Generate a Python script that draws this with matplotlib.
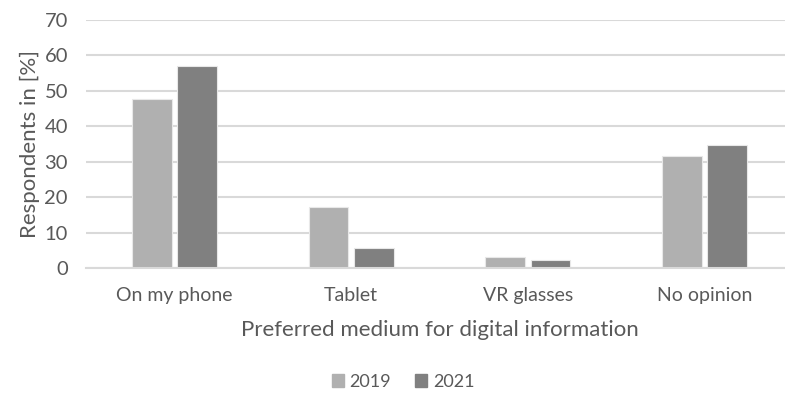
import numpy as np
import matplotlib.pyplot as plt

plt.rcParams['font.family'] = ['Lato', 'DejaVu Sans']

categories = ['On my phone', 'Tablet', 'VR glasses', 'No opinion']
years = ['2019', '2021']
values_2019 = [47.6, 17.2, 3.1, 31.7]
values_2021 = [57.1, 5.6, 2.3, 34.6]
colors = ['#B0B0B0', '#808080']

text_col = '#595959'
grid_col = '#D9D9D9'

fig = plt.figure(figsize=(7.85, 4.01), dpi=100)
# the plot area runs a little past the right edge of the figure
ax = fig.add_axes([0.1096, 0.3317, 0.9006, 0.6184])

x = np.arange(len(categories))
w = 0.225
gap = 0.03
ax.bar(x - (w + gap) / 2, values_2019, w, color=colors[0], label=years[0],
       edgecolor='#E8E8E8', linewidth=0.8, zorder=3)
ax.bar(x + (w + gap) / 2, values_2021, w, color=colors[1], label=years[1],
       edgecolor='#E8E8E8', linewidth=0.8, zorder=3)

ax.set_xlim(-0.5, len(categories) - 0.5)
ax.set_ylim(0, 70)
ax.set_yticks(np.arange(0, 71, 10))
ax.grid(axis='y', color=grid_col, linewidth=1.5, zorder=0)
for s in ['top', 'right', 'left']:
    ax.spines[s].set_visible(False)
ax.spines['bottom'].set_color(grid_col)
ax.spines['bottom'].set_linewidth(1.5)
ax.spines['bottom'].set_zorder(4)
ax.tick_params(length=0, labelsize=14, colors=text_col)
ax.tick_params(axis='y', labelsize=14.5, pad=13)
ax.tick_params(axis='x', pad=14)
ax.set_xticks(x)
ax.set_xticklabels(categories)

ax.set_ylabel('Respondents in [%]', fontsize=16, color=text_col, labelpad=3.5)
ax.set_xlabel('Preferred medium for digital information', fontsize=16,
              color=text_col, labelpad=11)

handles = [plt.Rectangle((0, 0), 1, 1, color=c) for c in colors]
fig.legend(handles, years, loc='center', bbox_to_anchor=(403 / 785, 1 - 382 / 401),
           ncol=2, frameon=False, fontsize=13, labelcolor=text_col,
           handlelength=0.7, handleheight=0.7, handletextpad=0.3, columnspacing=1.3)

fig.savefig('out.png', dpi=100)
